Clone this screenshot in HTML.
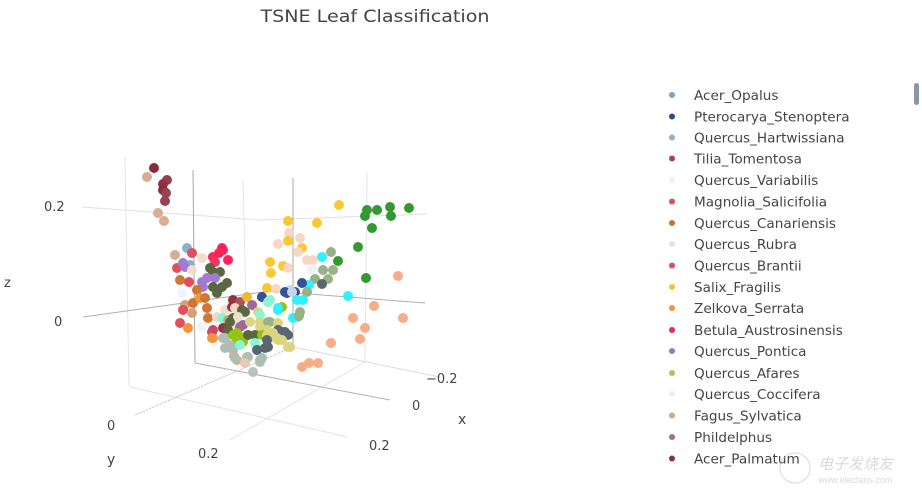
<!DOCTYPE html>
<html><head><meta charset="utf-8"><style>
html,body{margin:0;padding:0;background:#fff;}
svg{display:block;font-family:"DejaVu Sans","Liberation Sans",sans-serif;}
</style></head><body>
<svg width="922" height="497" viewBox="0 0 922 497" xmlns="http://www.w3.org/2000/svg">
<rect width="922" height="497" fill="#fff"/>
<text x="375" y="22" text-anchor="middle" font-size="17" fill="#444" textLength="229" lengthAdjust="spacingAndGlyphs">TSNE Leaf Classification</text>

<!-- grid lines -->
<g fill="none" stroke-width="1">
<path d="M125 157 L129 387" stroke="#e4e4e4"/>
<path d="M243 180 L246 300" stroke="#e6e6e6"/>
<path d="M367 172 L365 362" stroke="#e4e4e4"/>
<path d="M82 207 L260 220 L427 214" stroke="#e0e0e0"/>
<path d="M130 387 L348 437" stroke="#e4e4e4"/>
<path d="M230 440 L365 362" stroke="#e4e4e4"/>
<path d="M293 347 L440 377" stroke="#dadada"/>
<path d="M135 415 L293 347" stroke="#c4c4c4" stroke-dasharray="2 1"/>
<path d="M193 170 L195 363" stroke="#a8a8a8"/>
<path d="M293 178 L293 347" stroke="#a8a8a8"/>
<path d="M83 317 L270 291 L425 303" stroke="#b0b0b0"/>
<path d="M195 363 L390 400" stroke="#b0b0b0"/>
</g>

<!-- axis labels -->
<g font-size="13" fill="#444">
<text x="44" y="211">0.2</text>
<text x="54" y="326">0</text>
<text x="4" y="287">z</text>
<text x="426" y="383">−0.2</text>
<text x="412" y="410">0</text>
<text x="458" y="424" font-size="14">x</text>
<text x="369" y="450">0.2</text>
<text x="107" y="430">0</text>
<text x="198" y="458">0.2</text>
<text x="107" y="464" font-size="14">y</text>
</g>

<!-- points -->
<g opacity="0.92">
<!-- top-left maroon cluster -->
<circle cx="154" cy="168" r="5" fill="#7d1b2c"/>
<circle cx="147" cy="177" r="5" fill="#d7a58a"/>
<circle cx="167" cy="180" r="5" fill="#8e3145"/>
<circle cx="163" cy="184" r="5" fill="#8b2232"/>
<circle cx="163" cy="190" r="5" fill="#7d1b2c"/>
<circle cx="166" cy="193" r="5" fill="#8e3145"/>
<circle cx="165" cy="201" r="5" fill="#8e3145"/>
<circle cx="158" cy="213" r="5" fill="#d7a58a"/>
<circle cx="164" cy="221" r="5" fill="#d7a58a"/>

<!-- right far cluster -->
<circle cx="339" cy="205" r="5" fill="#fcc324"/>
<circle cx="288" cy="221" r="5" fill="#fcc324"/>
<circle cx="317" cy="223" r="5" fill="#fcc324"/>
<circle cx="367" cy="210" r="5" fill="#23911f"/>
<circle cx="377" cy="210" r="5" fill="#23911f"/>
<circle cx="390" cy="207" r="5" fill="#23911f"/>
<circle cx="409" cy="208" r="5" fill="#23911f"/>
<circle cx="365" cy="216" r="5" fill="#23911f"/>
<circle cx="391" cy="216" r="5" fill="#23911f"/>
<circle cx="372" cy="228" r="5" fill="#23911f"/>
<circle cx="358" cy="247" r="5" fill="#23911f"/>
<circle cx="338" cy="261" r="5" fill="#23911f"/>
<circle cx="366" cy="278" r="5" fill="#23911f"/>
<circle cx="289" cy="233" r="5" fill="#f7d4bf"/>
<circle cx="300" cy="238" r="5" fill="#f7d4bf"/>
<circle cx="288" cy="241" r="5" fill="#fcc324"/>
<circle cx="278" cy="244" r="5" fill="#f7d4bf"/>
<circle cx="302" cy="248" r="5" fill="#fcc324"/>
<circle cx="298" cy="252" r="5" fill="#f7d4bf"/>
<circle cx="322" cy="257" r="5" fill="#1ff0ff"/>
<circle cx="331" cy="252" r="5" fill="#8fac7c"/>
<circle cx="307" cy="260" r="5" fill="#f7d4bf"/>
<circle cx="313" cy="260" r="5" fill="#f7d4bf"/>
<circle cx="270" cy="262" r="5" fill="#fcc324"/>
<circle cx="283" cy="266" r="5" fill="#fcc324"/>
<circle cx="288" cy="268" r="5" fill="#f7d4bf"/>
<circle cx="312" cy="269" r="5" fill="#eef0f2"/>
<circle cx="323" cy="270" r="5" fill="#8fac7c"/>
<circle cx="333" cy="270" r="5" fill="#8fac7c"/>
<circle cx="271" cy="273" r="5" fill="#fcc324"/>
<circle cx="315" cy="279" r="5" fill="#8fac7c"/>
<circle cx="328" cy="279" r="5" fill="#8fac7c"/>
<circle cx="322" cy="284" r="5" fill="#4a5a64"/>
<circle cx="309" cy="285" r="5" fill="#1ff0ff"/>
<circle cx="302" cy="283" r="5" fill="#23458f"/>
<circle cx="267" cy="288" r="5" fill="#fcc324"/>
<circle cx="276" cy="289" r="5" fill="#f7d4bf"/>
<circle cx="287" cy="293" r="5" fill="#23458f"/>
<circle cx="295" cy="292" r="5" fill="#23458f"/>
<circle cx="290" cy="290" r="5" fill="#c7d3e6"/>
<circle cx="307" cy="292" r="5" fill="#8fac7c"/>
<circle cx="262" cy="297" r="5" fill="#23458f"/>
<circle cx="348" cy="296" r="5" fill="#1ff0ff"/>
<circle cx="398" cy="276" r="5" fill="#f8a57e"/>
<circle cx="374" cy="306" r="5" fill="#f8a57e"/>
<circle cx="353" cy="318" r="5" fill="#f8a57e"/>
<circle cx="403" cy="318" r="5" fill="#f8a57e"/>
<circle cx="365" cy="328" r="5" fill="#f8a57e"/>
<circle cx="360" cy="339" r="5" fill="#f8a57e"/>
<circle cx="331" cy="343" r="5" fill="#f8a57e"/>
<circle cx="302" cy="367" r="5" fill="#f8a57e"/>
<circle cx="309" cy="363" r="5" fill="#f8a57e"/>
<circle cx="318" cy="363" r="5" fill="#f8a57e"/>

<!-- left cluster -->
<circle cx="175" cy="255" r="5" fill="#d7a58a"/>
<circle cx="187" cy="248" r="5" fill="#7fa9c9"/>
<circle cx="192" cy="253" r="5" fill="#e0404f"/>
<circle cx="202" cy="258" r="5" fill="#f1dcc9"/>
<circle cx="213" cy="257" r="5" fill="#ff1149"/>
<circle cx="222" cy="248" r="5" fill="#ff1149"/>
<circle cx="223" cy="250" r="5" fill="#ff1149"/>
<circle cx="219" cy="253" r="5" fill="#ff1149"/>
<circle cx="228" cy="260" r="5" fill="#ff1149"/>
<circle cx="215" cy="262" r="5" fill="#ef2554"/>
<circle cx="177" cy="268" r="5" fill="#e0404f"/>
<circle cx="190" cy="265" r="5" fill="#7fa9c9"/>
<circle cx="183" cy="263" r="5" fill="#9b6fd0"/>
<circle cx="185" cy="267" r="5" fill="#9b6fd0"/>
<circle cx="192" cy="270" r="5" fill="#f1dcc9"/>
<circle cx="210" cy="268" r="5" fill="#4e5b31"/>
<circle cx="213" cy="272" r="5" fill="#4e5b31"/>
<circle cx="220" cy="272" r="5" fill="#4e5b31"/>
<circle cx="207" cy="278" r="5" fill="#9b6fd0"/>
<circle cx="215" cy="278" r="5" fill="#9b6fd0"/>
<circle cx="180" cy="280" r="5" fill="#cc6c22"/>
<circle cx="189" cy="282" r="5" fill="#e0404f"/>
<circle cx="202" cy="282" r="5" fill="#9b6fd0"/>
<circle cx="203" cy="287" r="5" fill="#9b6fd0"/>
<circle cx="227" cy="283" r="5" fill="#4e5b31"/>
<circle cx="213" cy="287" r="5" fill="#4e5b31"/>
<circle cx="222" cy="287" r="5" fill="#4e5b31"/>
<circle cx="182" cy="293" r="5" fill="#eef4fb"/>
<circle cx="197" cy="290" r="5" fill="#cc6c22"/>
<circle cx="217" cy="293" r="5" fill="#4e5b31"/>
<circle cx="185" cy="305" r="5" fill="#d09a74"/>
<circle cx="193" cy="303" r="5" fill="#cc6c22"/>
<circle cx="200" cy="298" r="5" fill="#f58c2a"/>
<circle cx="205" cy="298" r="5" fill="#cc6c22"/>
<circle cx="183" cy="310" r="5" fill="#e0404f"/>
<circle cx="192" cy="313" r="5" fill="#d09a74"/>
<circle cx="207" cy="308" r="5" fill="#cc6c22"/>
<circle cx="208" cy="318" r="5" fill="#cc6c22"/>
<circle cx="180" cy="323" r="5" fill="#e0404f"/>
<circle cx="188" cy="328" r="5" fill="#f58c2a"/>
<circle cx="202" cy="327" r="5" fill="#eef4fb"/>
<circle cx="212" cy="332" r="5" fill="#c8375a"/>
<circle cx="213" cy="338" r="5" fill="#f58c2a"/>

<!-- center cluster -->
<circle cx="233" cy="300" r="5" fill="#8b2232"/>
<circle cx="240" cy="302" r="5" fill="#a8434f"/>
<circle cx="247" cy="297" r="5" fill="#f5b21e"/>
<circle cx="262" cy="297" r="5" fill="#23458f"/>
<circle cx="253" cy="305" r="5" fill="#f1dcc9"/>
<circle cx="268" cy="302" r="5" fill="#80f5d0"/>
<circle cx="278" cy="310" r="5" fill="#1ff0ff"/>
<circle cx="282" cy="307" r="5" fill="#8cbf00"/>
<circle cx="285" cy="292" r="5" fill="#23458f"/>
<circle cx="292" cy="292" r="5" fill="#c7d3e6"/>
<circle cx="297" cy="300" r="5" fill="#1ff0ff"/>
<circle cx="303" cy="300" r="5" fill="#1ff0ff"/>
<circle cx="300" cy="312" r="5" fill="#8fac7c"/>
<circle cx="298" cy="317" r="5" fill="#1ff0ff"/>
<circle cx="293" cy="318" r="5" fill="#1ff0ff"/>
<circle cx="299" cy="316" r="5" fill="#8fac7c"/>
<circle cx="278" cy="308" r="5" fill="#1ff0ff"/>
<circle cx="270" cy="300" r="5" fill="#80f5d0"/>
<circle cx="217" cy="317" r="5" fill="#f7d4bf"/>
<circle cx="225" cy="310" r="5" fill="#f1dcc9"/>
<circle cx="232" cy="307" r="5" fill="#8b2232"/>
<circle cx="222" cy="318" r="5" fill="#80f5d0"/>
<circle cx="235" cy="308" r="5" fill="#f7d4bf"/>
<circle cx="242" cy="310" r="5" fill="#4e5b31"/>
<circle cx="245" cy="312" r="5" fill="#4e5b31"/>
<circle cx="252" cy="305" r="5" fill="#9b5b8d"/>
<circle cx="258" cy="312" r="5" fill="#d9d277"/>
<circle cx="260" cy="315" r="5" fill="#80f5d0"/>
<circle cx="228" cy="320" r="5" fill="#a8b070"/>
<circle cx="233" cy="318" r="5" fill="#4e5b31"/>
<circle cx="238" cy="317" r="5" fill="#f1dcc9"/>
<circle cx="237" cy="325" r="5" fill="#f1dcc9"/>
<circle cx="240" cy="327" r="5" fill="#9b5b8d"/>
<circle cx="243" cy="325" r="5" fill="#9b5b8d"/>
<circle cx="250" cy="322" r="5" fill="#d9d277"/>
<circle cx="230" cy="322" r="5" fill="#4e5b31"/>
<circle cx="260" cy="322" r="5" fill="#d9d277"/>
<circle cx="268" cy="322" r="5" fill="#8fac7c"/>
<circle cx="270" cy="322" r="5" fill="#8fac7c"/>
<circle cx="278" cy="323" r="5" fill="#d9d277"/>
<circle cx="260" cy="327" r="5" fill="#d9d277"/>
<circle cx="278" cy="330" r="5" fill="#4a5a64"/>
<circle cx="285" cy="332" r="5" fill="#4a5a64"/>
<circle cx="282" cy="332" r="5" fill="#4a5a64"/>
<circle cx="267" cy="330" r="5" fill="#d9d277"/>
<circle cx="273" cy="337" r="5" fill="#d9d277"/>
<circle cx="273" cy="333" r="5" fill="#d9d277"/>
<circle cx="288" cy="335" r="5" fill="#4a5a64"/>
<circle cx="223" cy="328" r="5" fill="#8b2232"/>
<circle cx="228" cy="330" r="5" fill="#4e5b31"/>
<circle cx="213" cy="330" r="5" fill="#c8375a"/>
<circle cx="212" cy="338" r="5" fill="#f58c2a"/>
<circle cx="223" cy="338" r="5" fill="#a8b9ae"/>
<circle cx="225" cy="338" r="5" fill="#a8b9ae"/>
<circle cx="233" cy="335" r="5" fill="#8cbf00"/>
<circle cx="237" cy="333" r="5" fill="#8cbf00"/>
<circle cx="237" cy="340" r="5" fill="#8cbf00"/>
<circle cx="243" cy="342" r="5" fill="#8cbf00"/>
<circle cx="245" cy="337" r="5" fill="#8cbf00"/>
<circle cx="248" cy="335" r="5" fill="#4e5b31"/>
<circle cx="255" cy="335" r="5" fill="#4e5b31"/>
<circle cx="262" cy="335" r="5" fill="#8cbf00"/>
<circle cx="267" cy="335" r="5" fill="#d9d277"/>
<circle cx="255" cy="343" r="5" fill="#80f5d0"/>
<circle cx="267" cy="340" r="5" fill="#4a5a64"/>
<circle cx="277" cy="338" r="5" fill="#d9d277"/>
<circle cx="278" cy="340" r="5" fill="#d9d277"/>
<circle cx="282" cy="340" r="5" fill="#d9d277"/>
<circle cx="225" cy="348" r="5" fill="#a8b9ae"/>
<circle cx="230" cy="345" r="5" fill="#a8b9ae"/>
<circle cx="233" cy="350" r="5" fill="#a8b9ae"/>
<circle cx="240" cy="345" r="5" fill="#80f5d0"/>
<circle cx="257" cy="348" r="5" fill="#80f5d0"/>
<circle cx="288" cy="347" r="5" fill="#d9d277"/>
<circle cx="290" cy="347" r="5" fill="#d9d277"/>
<circle cx="268" cy="347" r="5" fill="#4a5a64"/>
<circle cx="265" cy="348" r="5" fill="#4a5a64"/>
<circle cx="257" cy="350" r="5" fill="#4a5a64"/>
<circle cx="234" cy="356" r="5" fill="#d7a58a"/>
<circle cx="237" cy="360" r="5" fill="#d7a58a"/>
<circle cx="235" cy="358" r="5" fill="#a8b9ae"/>
<circle cx="247" cy="357" r="5" fill="#a8b9ae"/>
<circle cx="248" cy="357" r="5" fill="#a8b9ae"/>
<circle cx="262" cy="358" r="5" fill="#a8b9ae"/>
<circle cx="260" cy="360" r="5" fill="#a8b9ae"/>
<circle cx="245" cy="363" r="5" fill="#e6c7b3"/>
<circle cx="260" cy="362" r="5" fill="#a8b9ae"/>
<circle cx="253" cy="372" r="5" fill="#b3bfb8"/>
</g>

<!-- legend -->
<g font-size="13.6" fill="#444">
<circle cx="672" cy="95" r="3" fill="#7aa3c0"/><text x="694" y="100">Acer_Opalus</text>
<circle cx="672" cy="116.5" r="3" fill="#2a4b8d"/><text x="694" y="121.5">Pterocarya_Stenoptera</text>
<circle cx="672" cy="137.5" r="3" fill="#8fb1cf"/><text x="694" y="142.5">Quercus_Hartwissiana</text>
<circle cx="672" cy="158.5" r="3" fill="#a8434f"/><text x="694" y="163.5">Tilia_Tomentosa</text>
<circle cx="672" cy="180" r="3" fill="#eef3fb"/><text x="694" y="185">Quercus_Variabilis</text>
<circle cx="672" cy="201.5" r="3" fill="#df4d55"/><text x="694" y="206.5">Magnolia_Salicifolia</text>
<circle cx="672" cy="223" r="3" fill="#c8722e"/><text x="694" y="228">Quercus_Canariensis</text>
<circle cx="672" cy="244" r="3" fill="#efe0d5"/><text x="694" y="249">Quercus_Rubra</text>
<circle cx="672" cy="265.5" r="3" fill="#e04a6e"/><text x="694" y="270.5">Quercus_Brantii</text>
<circle cx="672" cy="287" r="3" fill="#f8c131"/><text x="694" y="292">Salix_Fragilis</text>
<circle cx="672" cy="308" r="3" fill="#f2923a"/><text x="694" y="313">Zelkova_Serrata</text>
<circle cx="672" cy="330" r="3" fill="#ef2554"/><text x="694" y="335">Betula_Austrosinensis</text>
<circle cx="672" cy="351" r="3" fill="#9c72cf"/><text x="694" y="356">Quercus_Pontica</text>
<circle cx="672" cy="373" r="3" fill="#a9c55a"/><text x="694" y="378">Quercus_Afares</text>
<circle cx="672" cy="394" r="3" fill="#f0f0f2"/><text x="694" y="399">Quercus_Coccifera</text>
<circle cx="672" cy="415.5" r="3" fill="#d9a689"/><text x="694" y="420.5">Fagus_Sylvatica</text>
<circle cx="672" cy="437" r="3" fill="#a0708f"/><text x="694" y="442">Phildelphus</text>
<circle cx="672" cy="458.5" r="3" fill="#8e3145"/><text x="694" y="463.5">Acer_Palmatum</text>
</g>
<rect x="914" y="83" width="5" height="22" rx="2.5" fill="#8a96a8"/>

<!-- watermark -->
<g opacity="0.55">
<circle cx="795" cy="468" r="15" fill="none" stroke="#bbb" stroke-width="1"/>
<text x="818" y="469" font-size="15" fill="#bbb" font-family="'Liberation Sans','Noto Sans CJK SC',sans-serif" font-style="italic">电子发烧友</text>
<text x="818" y="483" font-size="9" fill="#bbb" font-family="'Liberation Sans',sans-serif">www.elecfans.com</text>
</g>
</svg>
</body></html>
